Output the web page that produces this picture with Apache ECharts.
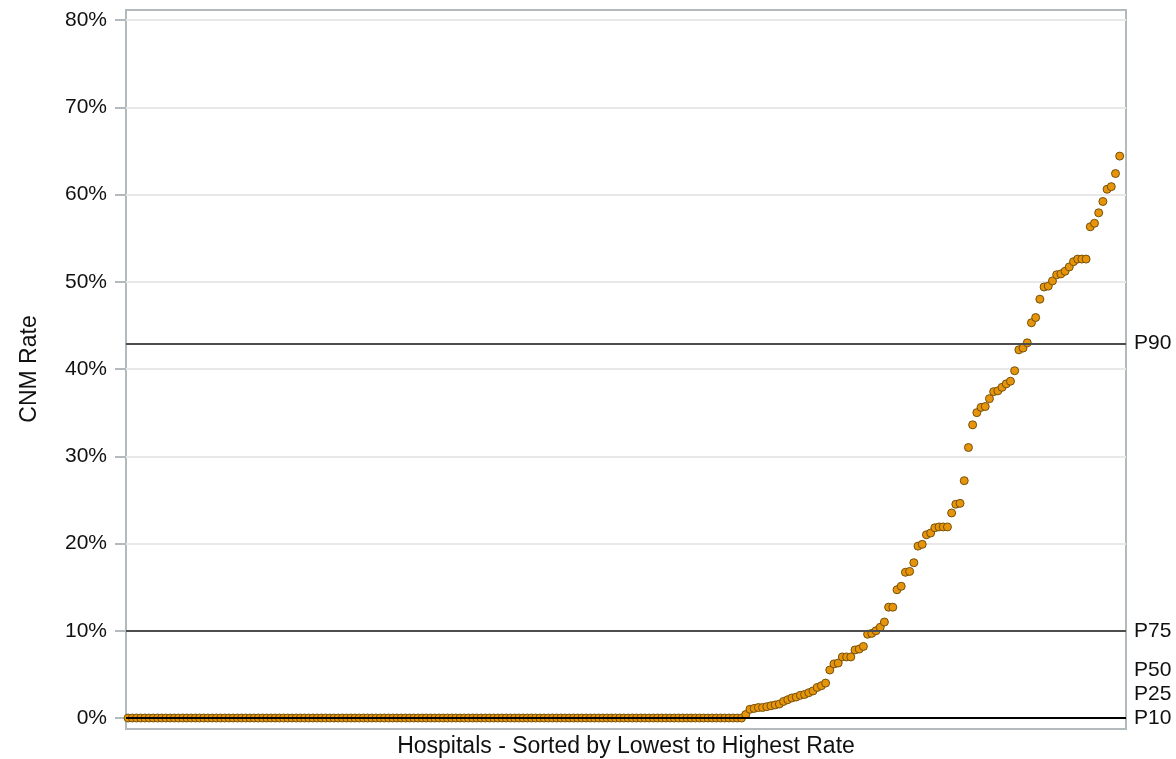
<!DOCTYPE html>
<html><head><meta charset="utf-8">
<script src="https://cdn.jsdelivr.net/npm/echarts@6/dist/echarts.min.js"></script>
<style>html,body{margin:0;padding:0;background:#fff}#c{width:1176px;height:759px}</style>
</head><body><div id="c"></div>
<script>
// Hospitals with a CNM rate of 0% (lowest, left part of the chart)
const zeroRates = [
  0,0,0,0,0,0,0,0,0,0, 0,0,0,0,0,0,0,0,0,0, 0,0,0,0,0,0,0,0,0,0,
  0,0,0,0,0,0,0,0,0,0, 0,0,0,0,0,0,0,0,0,0, 0,0,0,0,0,0,0,0,0,0,
  0,0,0,0,0,0,0,0,0,0, 0,0,0,0,0,0,0,0,0,0, 0,0,0,0,0,0,0,0,0,0,
  0,0,0,0,0,0,0,0,0,0, 0,0,0,0,0,0,0,0,0,0, 0,0,0,0,0,0,0,0,0,0,
  0,0,0,0,0,0,0,0,0,0, 0,0,0,0,0,0,0,0,0,0, 0,0,0,0,0,0,0
];
// Hospitals with a non-zero CNM rate (%), sorted ascending
const nonzeroRates = [
  0.4, 1.0, 1.1, 1.2, 1.2, 1.3, 1.4, 1.5, 1.6, 1.9,
  2.1, 2.3, 2.4, 2.6, 2.7, 2.9, 3.1, 3.5, 3.7, 4.0,
  5.5, 6.2, 6.3, 7.0, 7.0, 7.0, 7.8, 7.9, 8.2, 9.6,
  9.7, 10.0, 10.4, 11.0, 12.7, 12.7, 14.7, 15.1, 16.7, 16.8,
  17.8, 19.7, 19.9, 21.0, 21.2, 21.8, 21.9, 21.9, 21.9, 23.5,
  24.5, 24.6, 27.2, 31.0, 33.6, 35.0, 35.6, 35.7, 36.6, 37.4,
  37.5, 37.9, 38.3, 38.6, 39.8, 42.2, 42.4, 43.0, 45.3, 45.9,
  48.0, 49.4, 49.5, 50.1, 50.8, 50.9, 51.2, 51.7, 52.3, 52.6,
  52.6, 52.6, 56.3, 56.7, 57.9, 59.2, 60.6, 60.9, 62.4, 64.4,
  81.3
];
const rates = zeroRates.concat(nonzeroRates);
const hospitals = rates.map((_, i) => String(i + 1));

// Percentile reference lines
const refLabels = ['P90', 'P75', 'P50', 'P25', 'P10'];
const refValues = [42.9, 10.0, 0, 0, 0];

// Y axis ticks
const yTickMin = 0, yTickMax = 80, yTickStep = 10;

// ---- layout ----
const FONT = '"Liberation Sans", Arial, Helvetica, sans-serif';
const plotLeft = 126, plotTop = 10, plotW = 1000, plotH = 719;
const tickTop = 20, tickBottom = 718;           // pixel positions of 80% and 0%
const pxPerUnit = (tickBottom - tickTop) / (yTickMax - yTickMin);
const yLo = yTickMin - (plotTop + plotH - tickBottom) / pxPerUnit;
const yHi = yTickMax + (tickTop - plotTop) / pxPerUnit;

const stackNewlines = [0, 0, 4, 2, 0];
function refItem(i) {
  const isZero = refValues[i] === 0;
  return {
    name: refLabels[i],
    yAxis: refValues[i],
    lineStyle: { color: isZero ? '#000' : '#4d4d4d', width: 2, type: 'solid' },
    label: { formatter: refLabels[i] + '\n'.repeat(stackNewlines[i]) }
  };
}
const markLineBase = {
  silent: true, symbol: 'none', animation: false,
  label: { show: true, position: 'end', distance: 8, color: '#111', fontSize: 21, fontFamily: FONT, lineHeight: 24 }
};

const chart = echarts.init(document.getElementById('c'), null, { renderer: 'canvas' });
chart.setOption({
  animation: false,
  backgroundColor: '#fff',
  grid: [
    { left: plotLeft, top: plotTop, width: plotW, height: plotH, show: true, borderColor: '#b3babe', borderWidth: 2,
      backgroundColor: 'transparent', containLabel: false, outerBoundsMode: 'none' },
    { left: plotLeft, top: tickTop, width: plotW, height: tickBottom - tickTop, show: false,
      containLabel: false, outerBoundsMode: 'none' }
  ],
  xAxis: [
    { type: 'category', gridIndex: 0, data: hospitals, boundaryGap: true,
      axisLine: { show: false }, axisTick: { show: false }, axisLabel: { show: false }, splitLine: { show: false },
      name: 'Hospitals - Sorted by Lowest to Highest Rate', nameLocation: 'middle', nameGap: 6,
      nameTextStyle: { fontSize: 23, color: '#111', fontFamily: FONT } },
    { type: 'category', gridIndex: 1, data: hospitals, show: false }
  ],
  yAxis: [
    { type: 'value', gridIndex: 0, min: yLo, max: yHi, show: false, splitLine: { show: false } },
    { type: 'value', gridIndex: 1, min: yTickMin, max: yTickMax, interval: yTickStep,
      axisLine: { show: false },
      axisTick: { show: true, length: 11, lineStyle: { color: '#b3babe', width: 2 } },
      axisLabel: { formatter: '{value}%', margin: 19, fontSize: 21, color: '#111', fontFamily: FONT },
      splitLine: { show: true, lineStyle: { color: '#e8e8e8', width: 2 } },
      name: 'CNM Rate', nameLocation: 'middle', nameGap: 85, nameRotate: 90,
      nameTextStyle: { fontSize: 23, color: '#111', fontFamily: FONT } }
  ],
  series: [
    { type: 'scatter', xAxisIndex: 0, yAxisIndex: 0, data: [], z: 2,
      markLine: Object.assign({}, markLineBase, { data: [refItem(0), refItem(1)] }) },
    { type: 'scatter', name: 'CNM Rate', xAxisIndex: 0, yAxisIndex: 0, data: rates, z: 3, clip: true,
      symbol: 'circle', symbolSize: 8,
      itemStyle: { color: '#E6940A', borderColor: '#75500a', borderWidth: 1, opacity: 1 } },
    { type: 'scatter', xAxisIndex: 0, yAxisIndex: 0, data: [], z: 4,
      markLine: Object.assign({}, markLineBase, { data: [refItem(2), refItem(3), refItem(4)] }) }
  ]
});
</script>
</body></html>
